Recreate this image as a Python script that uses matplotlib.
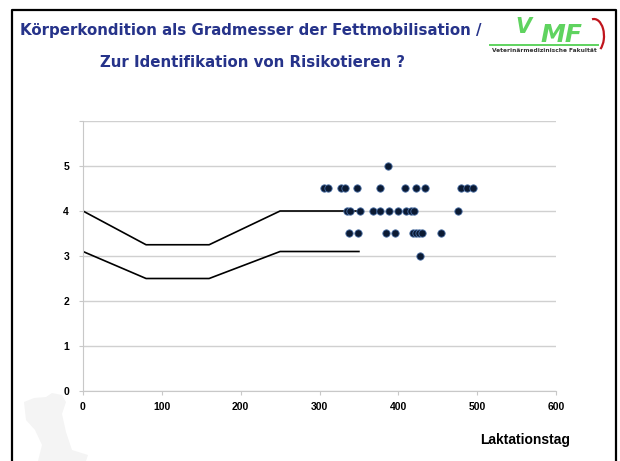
import matplotlib.pyplot as plt
from matplotlib.patches import Polygon, Arc
from matplotlib.lines import Line2D

# scatter data: (lactation day, body condition score)
days = [387,
        306, 311, 327, 332, 348, 377, 409, 423, 434, 480, 487, 495,
        335, 339, 352, 368, 377, 388, 399, 410, 416, 420, 476,
        338, 349, 384, 396, 418, 423, 426, 430, 454,
        428]
bcs = [5.0,
       4.5, 4.5, 4.5, 4.5, 4.5, 4.5, 4.5, 4.5, 4.5, 4.5, 4.5, 4.5,
       4.0, 4.0, 4.0, 4.0, 4.0, 4.0, 4.0, 4.0, 4.0, 4.0, 4.0,
       3.5, 3.5, 3.5, 3.5, 3.5, 3.5, 3.5, 3.5, 3.5,
       3.0]

# target corridor
upper_x = [0, 80, 160, 250, 350]
upper_y = [4.0, 3.25, 3.25, 4.0, 4.0]
lower_x = [0, 80, 160, 250, 350]
lower_y = [3.1, 2.5, 2.5, 3.1, 3.1]

xticks = [0, 100, 200, 300, 400, 500, 600]
yticks = [0, 1, 2, 3, 4, 5]

title1 = "Körperkondition als Gradmesser der Fettmobilisation /"
title2 = "Zur Identifikation von Risikotieren ?"
xlabel = "Laktationstag"

W, H = 620, 461
fig = plt.figure(figsize=(W / 100, H / 100), dpi=100)

def fx(px):
    return px / W

def fy(py):
    return 1 - py / H

# slide frame
frame = Line2D([fx(12), fx(12), fx(616), fx(616)], [0, fy(10), fy(10), 0],
               transform=fig.transFigure, color="black", lw=1.6)
fig.add_artist(frame)

# faint cow silhouette bottom left
cow = Polygon([(fx(24), fy(402)), (fx(34), fy(398)), (fx(46), fy(397)),
               (fx(52), fy(393)), (fx(62), fy(395)), (fx(66), fy(402)),
               (fx(62), fy(414)), (fx(66), fy(432)), (fx(72), fy(450)),
               (fx(88), fy(455)), (fx(86), fy(461)), (fx(38), fy(461)),
               (fx(42), fy(445)), (fx(35), fy(430)), (fx(26), fy(420))],
              closed=True, transform=fig.transFigure, facecolor="#f4f4f4",
              edgecolor="none", zorder=0)
fig.add_artist(cow)

# header
navy = "#26338a"
fig.text(fx(20), fy(31), title1, color=navy, fontsize=10.8, fontweight="bold",
         va="center", ha="left", family="DejaVu Sans")
fig.text(fx(252), fy(62), title2, color=navy, fontsize=10.8, fontweight="bold",
         va="center", ha="center", family="DejaVu Sans")

# logo
green = "#5fd35f"
fig.text(fx(523), fy(27), "V", color=green, fontsize=15, fontweight="bold",
         style="italic", va="center", ha="center", family="DejaVu Sans")
fig.text(fx(561), fy(35), "MF", color=green, fontsize=18, fontweight="bold",
         style="italic", va="center", ha="center", family="DejaVu Sans")
fig.add_artist(Line2D([fx(490), fx(598)], [fy(45), fy(45)],
                      transform=fig.transFigure, color=green, lw=1.4))
fig.text(fx(544), fy(50), "Veterinärmedizinische Fakultät", color="#333333",
         fontsize=4.2, fontweight="bold", va="center", ha="center")
fig.add_artist(Arc((fx(594), fy(36)), fx(20), 34 / H, theta1=-70, theta2=95,
                   transform=fig.transFigure, color="#c0141c", lw=1.6))

# plot area
ax = fig.add_axes([fx(83), fy(391), fx(556) - fx(83), fy(121) - fy(391)])
ax.set_xlim(0, 600)
ax.set_ylim(0, 6)
ax.set_yticks(range(0, 7))
ax.set_yticklabels([str(t) if t in yticks else "" for t in range(0, 7)])
ax.set_xticks(xticks)
ax.set_xticklabels([str(t) for t in xticks])
ax.grid(axis="y", color="#d0d0d0", lw=1)
ax.set_axisbelow(True)
for s in ["top", "right"]:
    ax.spines[s].set_visible(False)
for s in ["left", "bottom"]:
    ax.spines[s].set_color("#c8c8c8")
ax.tick_params(axis="both", colors="#c8c8c8", length=3, labelcolor="black",
               labelsize=7.5)
ax.tick_params(axis="y", pad=7)
ax.tick_params(axis="x", pad=5)
for lab in ax.get_xticklabels() + ax.get_yticklabels():
    lab.set_fontweight("bold")
    lab.set_family("Liberation Sans")

ax.plot(upper_x, upper_y, color="black", lw=1.2, zorder=2)
ax.plot(lower_x, lower_y, color="black", lw=1.2, zorder=2)
ax.scatter(days, bcs, s=28, color="#0b1a33", edgecolors="#4a6fa5",
           linewidths=0.6, zorder=3, clip_on=False)

fig.text(fx(525), fy(440), xlabel, fontsize=10, fontweight="bold",
         ha="center", va="center", family="Liberation Sans")

fig.savefig("out.png", dpi=100)
